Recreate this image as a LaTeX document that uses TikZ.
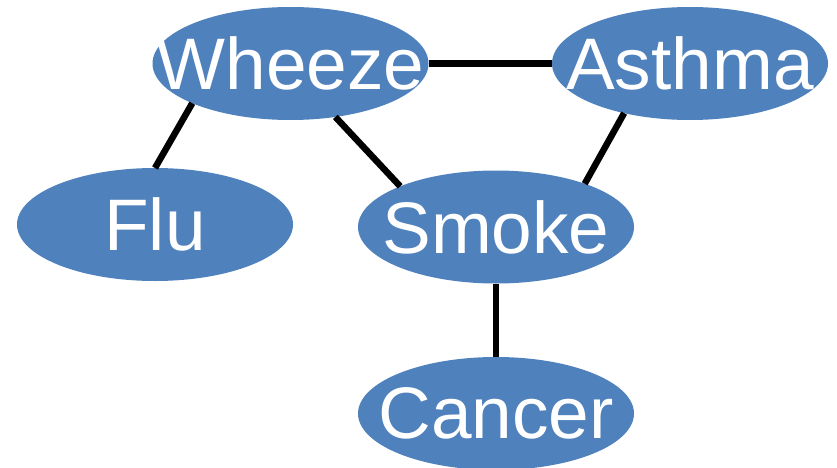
\documentclass[tikz,border=0pt]{standalone}
\usepackage{fontspec}
\setmainfont{Liberation Sans}
\usetikzlibrary{shapes.geometric}
\definecolor{blobblue}{HTML}{4F81BD}
\tikzset{
  blob/.style={ellipse, fill=blobblue, draw=none, inner sep=0pt, outer sep=0pt,
               minimum width=276pt, minimum height=113pt},
  word/.style={inner sep=0pt, text=white, font=\fontsize{73}{80}\selectfont},
  link/.style={line width=6.5pt, draw=black, line cap=butt}
}
\begin{document}
\begin{tikzpicture}[x=1pt, y=1pt]
  \useasboundingbox (0,0) rectangle (837,467);

  % the five variables
  \node[blob] (w) at (290.5,403.5) {};
  \node[blob] (a) at (690,403.5) {};
  \node[blob] (f) at (155,242.5) {};
  \node[blob] (s) at (496,240) {};
  \node[blob] (c) at (496,53.5) {};

  \node[word] (wt) at (w) {Wheeze};
  \node[word] (at) at (a) {Asthma};
  \node[word] (ft) at (f) {Flu};
  \node[word] (st) at (s) {Smoke};
  \node[word] (ct) at (c) {Cancer};

  % undirected links
  \draw[link] (w.east) -- (a.west);
  \draw[link] (w.202) -- (f.north);
  \draw[link] (w.310.5) -- (s.157.8);
  \draw[link] (a.217.4) -- (s.26);
  \draw[link] (s.south) -- (c.north);
\end{tikzpicture}
\end{document}
